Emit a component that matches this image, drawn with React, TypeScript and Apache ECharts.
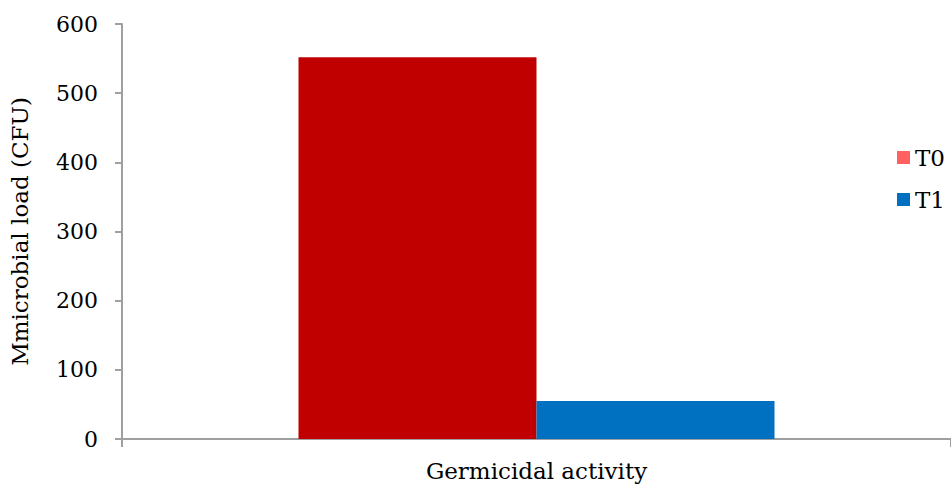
import React, { useEffect, useRef } from "react";
import * as echarts from "echarts";

const categories = ["Germicidal activity"];
const seriesNames = ["T0", "T1"];
const t0Values = [552];
const t1Values = [55];
const yTicks = { min: 0, max: 600, interval: 100 };

const FONT = "'DejaVu Serif', 'Liberation Serif', serif";

export default function App() {
  const ref = useRef<HTMLDivElement>(null);
  useEffect(() => {
    if (!ref.current) return;
    const chart = echarts.init(ref.current, undefined, { renderer: "svg" });
    chart.setOption({
      animation: false,
      backgroundColor: "#ffffff",
      textStyle: { fontFamily: FONT },
      grid: { left: 118, top: 24, width: 837, height: 415, containLabel: false },
      legend: {
        orient: "vertical",
        left: 892,
        top: 141,
        itemWidth: 13,
        itemHeight: 13,
        itemGap: 19,
        icon: "rect",
        textStyle: { fontFamily: FONT, fontSize: 23, color: "#000" },
        data: [
          { name: seriesNames[0], itemStyle: { color: "#FF6161" } },
          { name: seriesNames[1], itemStyle: { color: "#0070C0" } },
        ],
      },
      xAxis: {
        type: "category",
        data: categories,
        axisLine: { lineStyle: { color: "#a0a0a0", width: 2 } },
        axisTick: { show: true, length: 8, lineStyle: { color: "#a0a0a0", width: 2 } },
        axisLabel: { fontFamily: FONT, fontSize: 23, color: "#000", margin: 20 },
      },
      yAxis: {
        type: "value",
        min: yTicks.min,
        max: yTicks.max,
        interval: yTicks.interval,
        name: "Mmicrobial load (CFU)",
        nameLocation: "middle",
        nameGap: 91,
        nameTextStyle: { fontFamily: FONT, fontSize: 23, color: "#000" },
        axisLine: { show: true, lineStyle: { color: "#a0a0a0", width: 2 } },
        axisTick: { show: true, length: 7, lineStyle: { color: "#a0a0a0", width: 2 } },
        splitLine: { show: false },
        axisLabel: { fontFamily: FONT, fontSize: 22, color: "#000", margin: 24 },
      },
      series: [
        {
          name: seriesNames[0],
          type: "bar",
          data: t0Values,
          barWidth: 238,
          barGap: "0%",
          itemStyle: { color: "#C00000" },
        },
        {
          name: seriesNames[1],
          type: "bar",
          data: t1Values,
          barWidth: 238,
          barGap: "0%",
          itemStyle: { color: "#0070C0" },
        },
      ],
    });
    return () => chart.dispose();
  }, []);
  return <div ref={ref} style={{ width: 951, height: 484, position: "absolute", left: 0, top: 0 }} />;
}
